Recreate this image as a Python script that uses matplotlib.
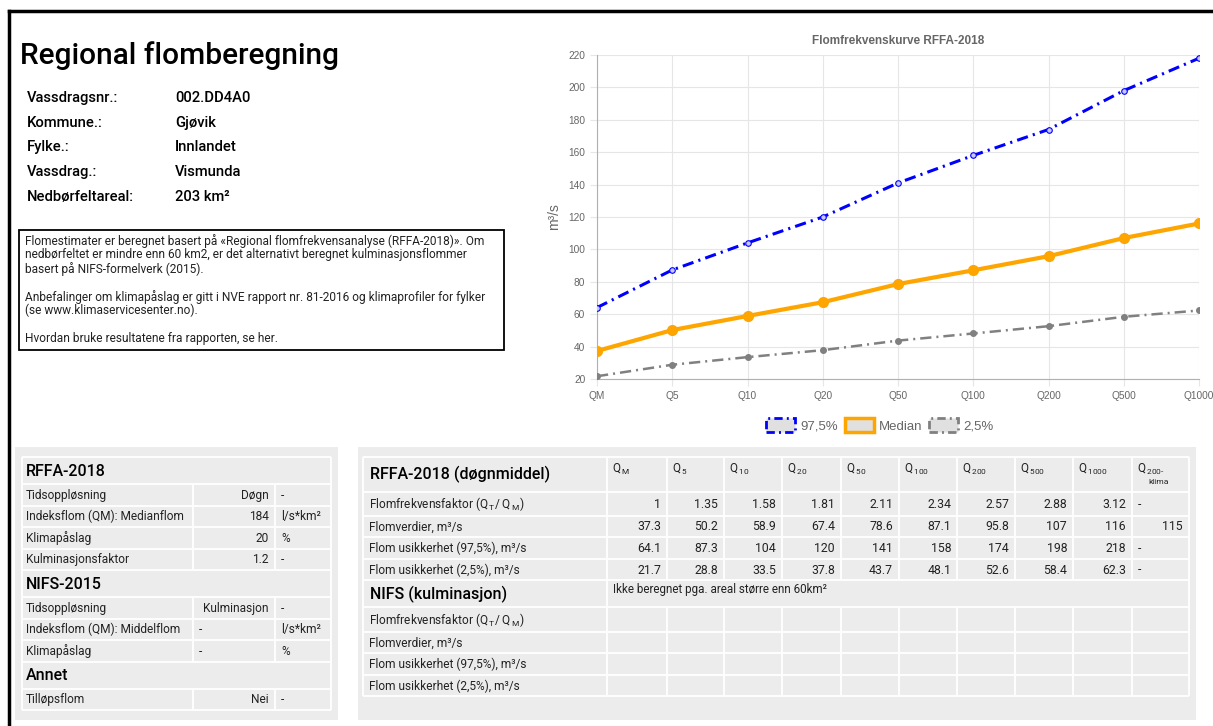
import matplotlib
matplotlib.use("Agg")
import matplotlib.pyplot as plt
from matplotlib.patches import Rectangle, Patch

plt.rcParams['font.family'] = ['Roboto', 'DejaVu Sans']
plt.rcParams['mathtext.fontset'] = 'custom'
plt.rcParams['mathtext.rm'] = 'Roboto'
plt.rcParams['mathtext.default'] = 'regular'

W, H = 1213, 726

# site info
info_labels = ['Vassdragsnr.:', 'Kommune.:', 'Fylke.:', 'Vassdrag.:', 'Nedbørfeltareal:']
info_values = ['002.DD4A0', 'Gjøvik', 'Innlandet', 'Vismunda', '203 km²']

note_lines = [
    'Flomestimater er beregnet basert på «Regional flomfrekvensanalyse (RFFA-2018)». Om',
    'nedbørfeltet er mindre enn 60 km2, er det alternativt beregnet kulminasjonsflommer',
    'basert på NIFS-formelverk (2015).',
    '',
    'Anbefalinger om klimapåslag er gitt i NVE rapport nr. 81-2016 og klimaprofiler for fylker',
    '(se www.klimaservicesenter.no).',
    '',
    'Hvordan bruke resultatene fra rapporten, se her.',
]

# flood frequency results
periods = ['M', '5', '10', '20', '50', '100', '200', '500', '1000']
factor = [1, 1.35, 1.58, 1.81, 2.11, 2.34, 2.57, 2.88, 3.12]
median = [37.3, 50.2, 58.9, 67.4, 78.6, 87.1, 95.8, 107, 116]
upper = [64.1, 87.3, 104, 120, 141, 158, 174, 198, 218]
lower = [21.7, 28.8, 33.5, 37.8, 43.7, 48.1, 52.6, 58.4, 62.3]
q200_klima = 115

# parameter table
rffa_params = [('Tidsoppløsning', 'Døgn', '-'),
               ('Indeksflom (QM): Medianflom', '184', 'l/s*km²'),
               ('Klimapåslag', '20', '%'),
               ('Kulminasjonsfaktor', '1.2', '-')]
nifs_params = [('Tidsoppløsning', 'Kulminasjon', '-'),
               ('Indeksflom (QM): Middelflom', '-', 'l/s*km²'),
               ('Klimapåslag', '-', '%')]
annet_params = [('Tilløpsflom', 'Nei', '-')]

CELL = '#ececec'
TXT = '#222222'
GREY = '#666666'
CHART_FONT = ['Liberation Sans', 'DejaVu Sans']

fig = plt.figure(figsize=(W / 100, H / 100), dpi=100)
fig.patch.set_facecolor('white')
bg = fig.add_axes([0, 0, 1, 1])
bg.set_xlim(0, W)
bg.set_ylim(H, 0)
bg.axis('off')


def box(x0, y0, x1, y1, **kw):
    bg.add_patch(Rectangle((x0, y0), x1 - x0, y1 - y0, **kw))


def hline(y, x0, x1):
    bg.plot([x0, x1], [y, y], color='white', lw=1.3, solid_capstyle='butt')


def vline(x, y0, y1):
    bg.plot([x, x], [y0, y1], color='white', lw=1.3, solid_capstyle='butt')


# outer frame
bg.plot([9, W], [11, 11], color='black', lw=2.5)
bg.plot([9, 9], [11, H], color='black', lw=2.5)

# header block
bg.text(20, 56, 'Regional flomberegning', fontsize=21.5, color='black', va='center', fontweight='medium')
for i, (lab, val) in enumerate(zip(info_labels, info_values)):
    y = 98 + i * 24.7
    bg.text(27, y, lab, fontsize=10.6, color='black', va='center', fontweight='medium')
    bg.text(175, y, val, fontsize=10.6, color='black', va='center', fontweight='medium')

box(19, 230, 504, 350, facecolor='white', edgecolor='black', lw=1.3)
for i, line in enumerate(note_lines):
    bg.text(25, 241 + i * 13.9, line, fontsize=8.6, color=TXT, va='center')

# left parameter table
box(15, 447, 338, 720, facecolor=CELL, edgecolor='none')
lx0, lx1, lc1, lc2 = 22, 331, 193, 275
sections = [('RFFA-2018', rffa_params), ('NIFS-2015', nifs_params), ('Annet', annet_params)]
y = 457
for title, rows in sections:
    y_next = y + 27
    bg.text(lx0 + 4, (y + y_next) / 2 + 1, title, fontsize=11.5, color='black', va='center',
            fontweight='medium')
    hline(y, lx0, lx1)
    y = y_next
    for lab, val, unit in rows:
        y_next = y + 21.5
        yc = (y + y_next) / 2 + 0.5
        hline(y, lx0, lx1)
        vline(lc1, y, y_next)
        vline(lc2, y, y_next)
        bg.text(lx0 + 4, yc, lab, fontsize=8.6, color=TXT, va='center')
        if val == '-':
            bg.text(lc1 + 6, yc, val, fontsize=8.6, color=TXT, va='center')
        else:
            bg.text(lc2 - 6, yc, val, fontsize=8.6, color=TXT, va='center', ha='right')
        bg.text(lc2 + 6, yc, unit, fontsize=8.6, color=TXT, va='center')
        y = y_next
hline(y, lx0, lx1)
vline(lx0, 457, y)
vline(lx1, 457, y)

# right results table
box(358, 447, 1196, 720, facecolor=CELL, edgecolor='none')
cols = [363, 607, 667, 724, 782, 841, 899, 957, 1015, 1073, 1132, 1189]
rows_y = [457, 492, 516, 537, 559, 580, 607, 632, 653, 675, 696]
rx0, rx1 = cols[0], cols[-1]
for yy in rows_y:
    hline(yy, rx0, rx1)
for i, (a, b) in enumerate(zip(rows_y[:-1], rows_y[1:])):
    xs = [rx0, cols[1], rx1] if i == 5 else cols
    for xx in xs:
        vline(xx, a, b)

bg.text(370, 474, 'RFFA-2018 (døgnmiddel)', fontsize=11.5, color='black', va='center',
        fontweight='medium')
for j, p in enumerate(periods):
    bg.text(cols[j + 1] + 5, 469, 'Q$_{\\,%s}$' % p, fontsize=8.5, color=TXT, va='center')
bg.text(cols[10] + 5, 469, 'Q$_{\\,200\\text{-}}$', fontsize=8.5, color=TXT, va='center')
bg.text(cols[10] + 16, 482, 'klima', fontsize=6, color=TXT, va='center')

fact_label = 'Flomfrekvensfaktor (Q$_{\\,T}$/ Q$_{\\,M}$)'
body_labels = [fact_label, 'Flomverdier, m³/s',
               'Flom usikkerhet (97,5%), m³/s', 'Flom usikkerhet (2,5%), m³/s']
body_values = [factor, median, upper, lower]
klima_col = ['-', '%g' % q200_klima, '-', '-']
for i, (lab, vals) in enumerate(zip(body_labels, body_values)):
    yc = (rows_y[i + 1] + rows_y[i + 2]) / 2 + 0.5
    bg.text(rx0 + 6, yc, lab, fontsize=8.6, color=TXT, va='center')
    for j, v in enumerate(vals):
        bg.text(cols[j + 2] - 6, yc, '%g' % v, fontsize=8.8, color=TXT, va='center', ha='right')
    if klima_col[i] == '-':
        bg.text(cols[10] + 6, yc, '-', fontsize=8.8, color=TXT, va='center')
    else:
        bg.text(cols[11] - 6, yc, klima_col[i], fontsize=8.8, color=TXT, va='center', ha='right')

bg.text(370, 594, 'NIFS (kulminasjon)', fontsize=11.5, color='black', va='center', fontweight='medium')
bg.text(cols[1] + 6, 590, 'Ikke beregnet pga. areal større enn 60km²', fontsize=8.4, color=TXT, va='center')
for i, lab in enumerate(body_labels):
    yc = (rows_y[i + 6] + rows_y[i + 7]) / 2 + 0.5
    bg.text(rx0 + 6, yc, lab, fontsize=8.6, color=TXT, va='center')

# flood frequency curve
ax = fig.add_axes([597 / W, 1 - 379 / H, 602 / W, 324 / H])
ax.set_facecolor('white')
xlabels = ['Q' + p for p in periods]
x = list(range(len(periods)))
ax.plot(x, upper, color='#0000ff', lw=2.2, linestyle=(0, (3.7, 1.7, 0.7, 1.7)),
        marker='o', ms=4, mfc='#c8c8ff', mec='#0000ff', mew=0.8, zorder=3)
ax.plot(x, median, color='#ffa500', lw=3, marker='o', ms=7, zorder=4)
ax.plot(x, lower, color='#808080', lw=1.8, linestyle=(0, (4.5, 2, 0.8, 2)),
        marker='o', ms=4, mfc='#808080', mec='#808080', zorder=3)
ax.set_xlim(0, len(periods) - 1)
ax.set_ylim(20, 220)
ax.set_yticks(range(20, 221, 20))
ax.set_xticks(x)
ax.set_xticklabels(xlabels)
ax.grid(True, color='#e6e6e6', lw=0.8)
ax.set_axisbelow(True)
for side in ['top', 'right']:
    ax.spines[side].set_visible(False)
for side in ['left', 'bottom']:
    ax.spines[side].set_color('#b0b0b0')
    ax.spines[side].set_linewidth(0.8)
ax.tick_params(colors='#e6e6e6', labelcolor=GREY, labelsize=7.3, length=5, width=0.8)
for t in ax.get_xticklabels() + ax.get_yticklabels():
    t.set_family(CHART_FONT)
ax.set_ylabel('m³/s', fontsize=10, color=GREY, family=CHART_FONT, labelpad=5)
ax.set_title('Flomfrekvenskurve RFFA-2018', fontsize=8.5, color=GREY, fontweight='bold',
             family=CHART_FONT, pad=8)

handles = [Patch(facecolor='#e0e0e0', edgecolor='#0000ff', lw=2, linestyle=(0, (3, 1.5, 0.7, 1.5)), label='97,5%'),
           Patch(facecolor='#e0e0e0', edgecolor='#ffa500', lw=2.5, label='Median'),
           Patch(facecolor='#e0e0e0', edgecolor='#808080', lw=2, linestyle=(0, (3, 1.5, 0.7, 1.5)), label='2,5%')]
leg = ax.legend(handles=handles, loc='upper center', bbox_to_anchor=(0.47, -0.085), ncol=3, frameon=False,
                handlelength=2.2, handleheight=1.2, columnspacing=0.5, handletextpad=0.4,
                prop={'family': CHART_FONT, 'size': 9.5})
for t in leg.get_texts():
    t.set_color(GREY)

fig.savefig('out.png', dpi=100)
